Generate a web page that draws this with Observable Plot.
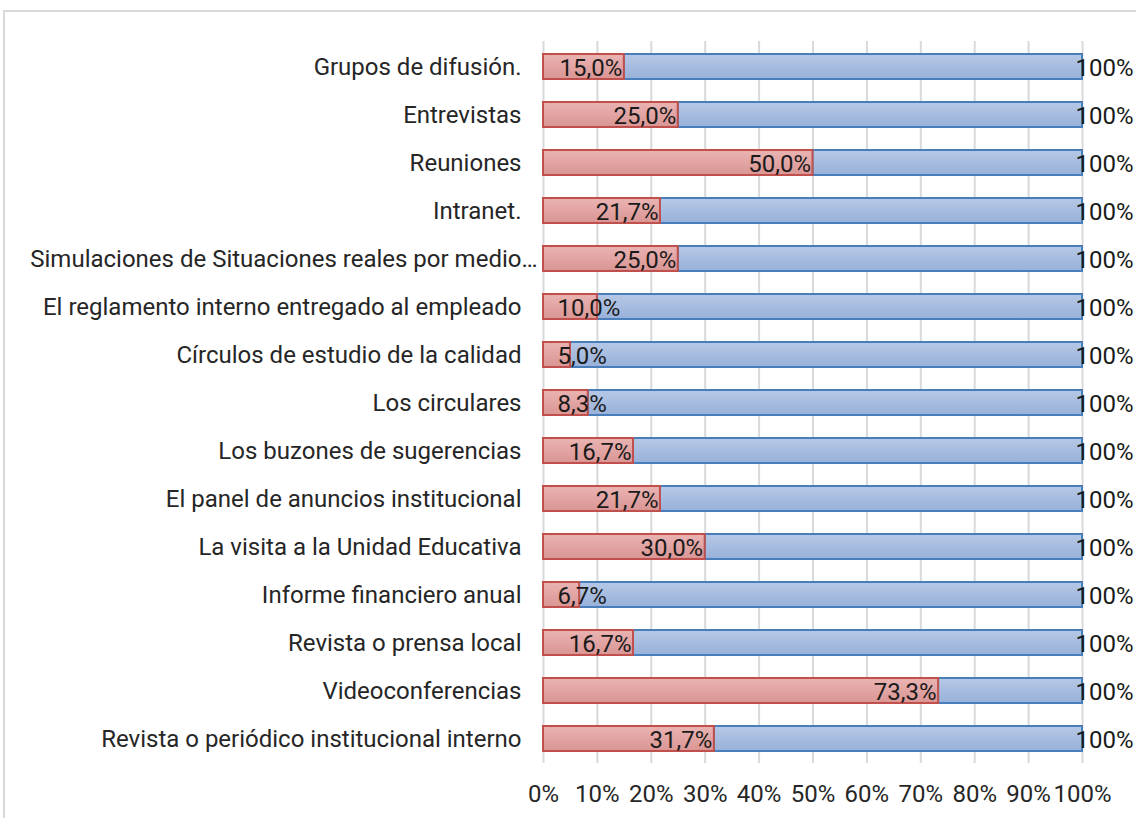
<!DOCTYPE html>
<html>
<head>
<meta charset="utf-8">
<script src="https://cdn.jsdelivr.net/npm/d3@7"></script>
<script src="https://cdn.jsdelivr.net/npm/@observablehq/plot@0.6"></script>
<style>
  html, body { margin: 0; padding: 0; background: #fff; }
  #wrap { position: relative; width: 1136px; height: 818px; overflow: hidden; }
  #frame { position: absolute; left: 3px; top: 10px; width: 1200px; height: 900px;
           border-top: 2px solid #d9d9d9; border-left: 2px solid #d9d9d9; }
  #chart { position: absolute; left: 0; top: 0; }
  #chart svg { font-family: Roboto, "Noto Sans", sans-serif; }
</style>
</head>
<body>
<div id="wrap"><div id="frame"></div><div id="chart"></div></div>
<script>
const categories = [
  "Grupos de difusión.",
  "Entrevistas",
  "Reuniones",
  "Intranet.",
  "Simulaciones de Situaciones reales por medio…",
  "El reglamento interno entregado al empleado",
  "Círculos de estudio de la calidad",
  "Los circulares",
  "Los buzones de sugerencias",
  "El panel de anuncios institucional",
  "La visita a la Unidad Educativa",
  "Informe financiero anual",
  "Revista o prensa local",
  "Videoconferencias",
  "Revista o periódico institucional interno"
];
const values = [15.0, 25.0, 50.0, 21.7, 25.0, 10.0, 5.0, 8.3, 16.7, 21.7, 30.0, 6.7, 16.7, 73.3, 31.7];
const totals = [100, 100, 100, 100, 100, 100, 100, 100, 100, 100, 100, 100, 100, 100, 100];
const xTicks = [0, 10, 20, 30, 40, 50, 60, 70, 80, 90, 100];

const data = categories.map((c, i) => ({cat: c, v: values[i], t: totals[i]}));
const fmt = v => v.toFixed(1).replace(".", ",") + "%";
const small = data.filter(d => d.v < 12);
const large = data.filter(d => d.v >= 12);

const plot = Plot.plot({
  width: 1136,
  height: 818,
  marginLeft: 543,
  marginRight: 54,
  marginTop: 41,
  marginBottom: 55,
  style: {fontSize: "24px", color: "#262626", background: "transparent"},
  x: {domain: [0, 100], ticks: xTicks, tickFormat: d => d + "%", label: null},
  y: {domain: categories, label: null, paddingInner: 0.48, paddingOuter: 0.24},
  marks: [
    Plot.gridX(xTicks, {stroke: "#d9d9d9", strokeWidth: 2, strokeOpacity: 1}),
    Plot.barX(data, {y: "cat", x1: "v", x2: "t", fill: "url(#gradBlue)", stroke: "#4a7ebb", strokeWidth: 2}),
    Plot.barX(data, {y: "cat", x1: 0, x2: "v", fill: "url(#gradRed)", stroke: "#c0504d", strokeWidth: 2}),
    Plot.text(large, {y: "cat", x: "v", text: d => fmt(d.v), textAnchor: "end", dx: -2, dy: 1, fill: "#1a1a1a", fontSize: 24}),
    Plot.text(small, {y: "cat", x: 2.6, text: d => fmt(d.v), textAnchor: "start", dy: 1, fill: "#1a1a1a", fontSize: 24}),
    Plot.text(data, {y: "cat", x: "t", text: d => d.t + "%", textAnchor: "start", dx: -7, dy: 1, fill: "#1a1a1a", fontSize: 24}),
    Plot.axisX({ticks: xTicks, tickFormat: d => d + "%", tickSize: 0, tickPadding: 21, fontSize: 24, fill: "#262626", label: null}),
    Plot.axisY({tickSize: 0, tickPadding: 22, fontSize: 24, fill: "#262626", label: null, textOverflow: null})
  ]
});

const svg = d3.select(plot);
const defs = svg.insert("defs", ":first-child");
const gr = defs.append("linearGradient").attr("id", "gradRed").attr("x1", 0).attr("y1", 0).attr("x2", 0).attr("y2", 1);
gr.append("stop").attr("offset", "0%").attr("stop-color", "#eab4b3");
gr.append("stop").attr("offset", "100%").attr("stop-color", "#d99593");
const gb = defs.append("linearGradient").attr("id", "gradBlue").attr("x1", 0).attr("y1", 0).attr("x2", 0).attr("y2", 1);
gb.append("stop").attr("offset", "0%").attr("stop-color", "#b6c8e6");
gb.append("stop").attr("offset", "100%").attr("stop-color", "#98b1d9");

// Truncated label: the ellipsis hangs past the right edge of the other labels
svg.selectAll("text").filter(function() { return this.textContent.endsWith("…"); }).attr("dx", 16);

document.getElementById("chart").appendChild(plot);
</script>
</body>
</html>
